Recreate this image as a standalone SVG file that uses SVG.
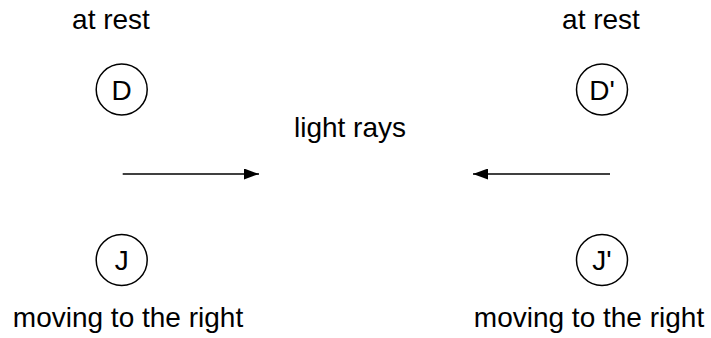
<svg xmlns="http://www.w3.org/2000/svg" width="711" height="338" viewBox="0 0 711 338">
<defs>
<style>
text{font-family:"Liberation Sans",Arial,Helvetica,sans-serif;font-size:28px;fill:#000}
.c{text-anchor:middle}
circle{fill:none;stroke:#000;stroke-width:1.5}
.edge{stroke:#000;stroke-width:1.5;fill:none}
</style>
<marker id="ah" viewBox="0 0 15 11" refX="15" refY="5.5" markerWidth="15" markerHeight="11" markerUnits="userSpaceOnUse" orient="auto">
<path d="M0,0 L15,5.5 L0,11 Z" fill="#000"/>
</marker>
</defs>
<rect width="711" height="338" fill="#fff"/>
<text class="c" x="111" y="29">at rest</text>
<text class="c" x="601" y="29">at rest</text>
<text class="c" x="350" y="137">light rays</text>
<text class="c" x="128" y="327">moving to the right</text>
<text class="c" x="589" y="327">moving to the right</text>
<g id="D"><circle cx="121.7" cy="89.5" r="25.5"/><text class="c" x="121.7" y="99.5">D</text></g>
<g id="Dp"><circle cx="602" cy="89.5" r="25.5"/><text class="c" x="602" y="99.5">D'</text></g>
<g id="J"><circle cx="121.7" cy="260" r="25.5"/><text class="c" x="121.7" y="270">J</text></g>
<g id="Jp"><circle cx="602" cy="260" r="25.5"/><text class="c" x="602" y="270">J'</text></g>
<g id="connectors">
<line class="edge" x1="122.7" y1="174" x2="259" y2="174" marker-end="url(#ah)"/>
<line class="edge" x1="610" y1="174" x2="473" y2="174" marker-end="url(#ah)"/>
</g>
</svg>
